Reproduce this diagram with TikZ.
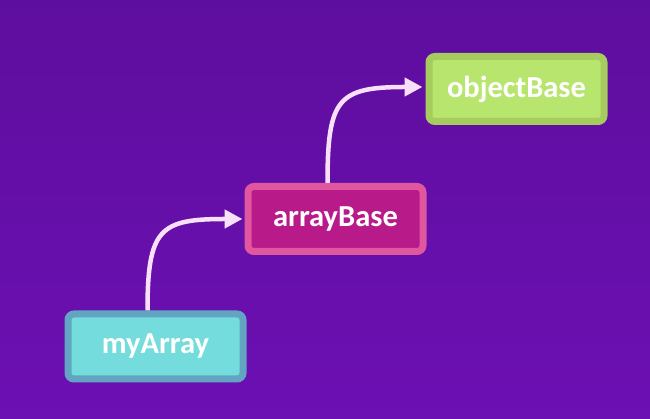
\documentclass[tikz,border=0pt]{standalone}
\usepackage{fontspec}
\setmainfont{Carlito}
\usetikzlibrary{arrows.meta}
\definecolor{bgtop}{HTML}{5E0E9E}
\definecolor{bgbot}{HTML}{6C0FB3}
\definecolor{cyanfill}{HTML}{74DCDC}
\definecolor{cyanline}{HTML}{62A5C2}
\definecolor{magfill}{HTML}{B81A8A}
\definecolor{magline}{HTML}{E0569F}
\definecolor{grnfill}{HTML}{B8E56E}
\definecolor{grnline}{HTML}{A6CC5E}
\definecolor{arrowcol}{HTML}{F8E0F8}
\tikzset{
  classbox/.style={rounded corners=6pt, line width=7pt, minimum width=175pt, minimum height=65pt,
    inner sep=0pt, text=white, font=\fontsize{30.5}{32}\selectfont\bfseries},
  linkarrow/.style={draw=arrowcol, line width=4.5pt, -{Triangle[length=18pt,width=18pt]}, out=90, in=180, looseness=1.6}
}
\begin{document}
\begin{tikzpicture}[x=1pt,y=1pt]
\useasboundingbox (0,0) rectangle (650,419);
\shade[top color=bgtop, bottom color=bgbot] (0,0) rectangle (650,419);
\node[classbox, fill=cyanfill, draw=cyanline] (ma) at (155.5,72.5) {myArray};
\node[classbox, fill=magfill, draw=magline] (ab) at (335.5,200) {arrayBase};
\node[classbox, fill=grnfill, draw=grnline] (ob) at (516.5,330) {objectBase};
\draw[linkarrow] ([xshift=-8pt]ma.north) to ([xshift=-2pt]ab.west);
\draw[linkarrow] ([xshift=-8pt]ab.north) to ([xshift=-3pt,yshift=2pt]ob.west);
\end{tikzpicture}
\end{document}
